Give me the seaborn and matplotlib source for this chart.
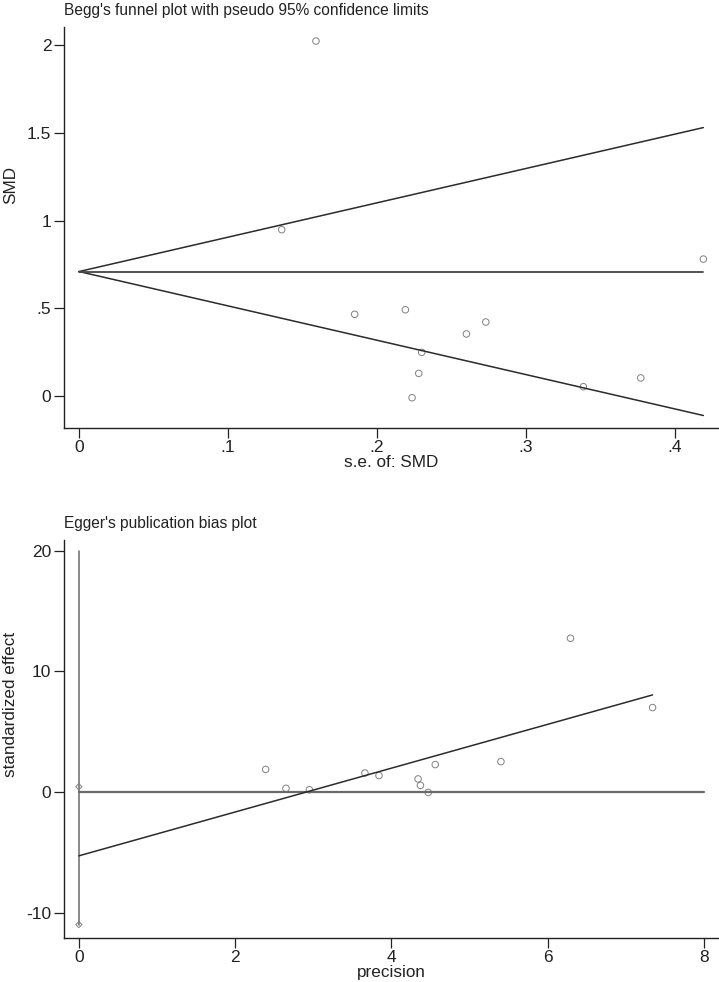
"""Begg's funnel plot and Egger's publication bias plot"""

import matplotlib
matplotlib.use('Agg')
import matplotlib.pyplot as plt
import seaborn as sns
import pandas as pd


# --------------------------- data ---------------------------------------------------
# Begg's funnel plot: standard error vs SMD
se = [0.159, 0.136, 0.185, 0.219, 0.230, 0.228, 0.2235, 0.260, 0.273, 0.419, 0.3385, 0.377]
smd = [2.025, 0.949, 0.466, 0.492, 0.249, 0.129, -0.010, 0.354, 0.422, 0.781, 0.053, 0.103]
pooled_smd = 0.71
z95 = 1.96

# Egger's plot: precision vs standardized effect
precision = [6.29, 7.34, 5.40, 4.56, 4.34, 4.37, 4.47, 3.84, 3.66, 2.39, 2.95, 2.65]
std_effect = [12.75, 7.0, 2.52, 2.27, 1.08, 0.55, -0.04, 1.36, 1.57, 1.87, 0.18, 0.30]
egger_x = [0, 7.34]
egger_y = [-5.3, 8.05]
zero_x = [0, 8]
intercept_ci = [-11.0, 20.0]
intercept_pts = [0.44, -11.0]

top_xticks = [0, 0.1, 0.2, 0.3, 0.4]
top_xlabels = ['0', '.1', '.2', '.3', '.4']
top_yticks = [0, 0.5, 1, 1.5, 2]
top_ylabels = ['0', '.5', '1', '1.5', '2']
bot_xticks = [0, 2, 4, 6, 8]
bot_yticks = [-10, 0, 10, 20]


# --------------------------- style ------------------------------
sns.set_style('ticks')
plt.rcParams['font.family'] = ['Liberation Sans', 'DejaVu Sans']
plt.rc('axes', unicode_minus=False)
COLOR = '#222222'
plt.rcParams['text.color'] = COLOR
plt.rcParams['axes.labelcolor'] = COLOR
plt.rcParams['xtick.color'] = COLOR
plt.rcParams['ytick.color'] = COLOR
plt.rcParams['axes.edgecolor'] = COLOR
plt.rcParams['axes.linewidth'] = 1.0
plt.rcParams['xtick.major.size'] = 7
plt.rcParams['ytick.major.size'] = 7
plt.rcParams['xtick.major.width'] = 0.9
plt.rcParams['ytick.major.width'] = 0.9
plt.rcParams['xtick.major.pad'] = 1.5
plt.rcParams['ytick.major.pad'] = 2
tick_fontsize = 12.5
label_fontsize = 12.3
title_fontsize = 11.2

fig = plt.figure(figsize=(7.19, 9.82), dpi=100)
ax1 = fig.add_axes([0.089, 0.5639, 0.911, 0.4086])
ax2 = fig.add_axes([0.089, 0.0445, 0.911, 0.4056])

marker_kw = dict(marker='o', s=22, facecolor='none', edgecolor='#808080', linewidth=0.7)
line_col = '#2b2b2b'


# _____________________ BEGG'S FUNNEL PLOT _______________________________________________
df_top = pd.DataFrame({'se': se, 'smd': smd})
se_max = max(se)
sns.lineplot(x=[0, se_max], y=[pooled_smd + z95 * 0, pooled_smd + z95 * se_max], ax=ax1,
             color=line_col, linewidth=1.1)
sns.lineplot(x=[0, se_max], y=[pooled_smd - z95 * 0, pooled_smd - z95 * se_max], ax=ax1,
             color=line_col, linewidth=1.1)
sns.lineplot(x=[0, se_max], y=[pooled_smd, pooled_smd], ax=ax1, color='#444444', linewidth=1.3)
sns.scatterplot(data=df_top, x='se', y='smd', ax=ax1, **marker_kw)

ax1.set_xlim(-0.0101, 0.4295)
ax1.set_ylim(-0.184, 2.105)
ax1.set_xticks(top_xticks, top_xlabels)
ax1.set_yticks(top_yticks, top_ylabels)
ax1.tick_params(axis='both', labelsize=tick_fontsize)
ax1.set_xlabel('s.e. of: SMD', fontsize=label_fontsize, labelpad=0)
ax1.set_ylabel('SMD', fontsize=label_fontsize)
ax1.yaxis.set_label_coords(-0.07, 0.606)
ax1.set_title("Begg's funnel plot with pseudo 95% confidence limits", loc='left',
              fontsize=title_fontsize, pad=9)
sns.despine(ax=ax1)


# _____________________ EGGER'S PLOT _______________________________________________
df_bot = pd.DataFrame({'precision': precision, 'effect': std_effect})
ax2.plot([0, 0], intercept_ci, color='#6a6a6a', linewidth=1.1)
sns.lineplot(x=zero_x, y=[0, 0], ax=ax2, color='#6a6a6a', linewidth=1.6)
sns.lineplot(x=egger_x, y=egger_y, ax=ax2, color=line_col, linewidth=1.1)
sns.scatterplot(data=df_bot, x='precision', y='effect', ax=ax2, **marker_kw)
ax2.scatter([0, 0], intercept_pts, marker='D', s=10, facecolor='none',
            edgecolor='#808080', linewidth=0.7, zorder=3)

ax2.set_xlim(-0.19, 8.19)
ax2.set_ylim(-12.14, 20.9)
ax2.set_xticks(bot_xticks)
ax2.set_yticks(bot_yticks)
ax2.tick_params(axis='both', labelsize=tick_fontsize)
ax2.set_xlabel('precision', fontsize=label_fontsize, labelpad=0)
ax2.set_ylabel('standardized effect', fontsize=label_fontsize)
ax2.yaxis.set_label_coords(-0.07, 0.586)
ax2.set_title("Egger's publication bias plot", loc='left', fontsize=title_fontsize, pad=9)
sns.despine(ax=ax2)

plt.savefig('out.png', dpi=100)
